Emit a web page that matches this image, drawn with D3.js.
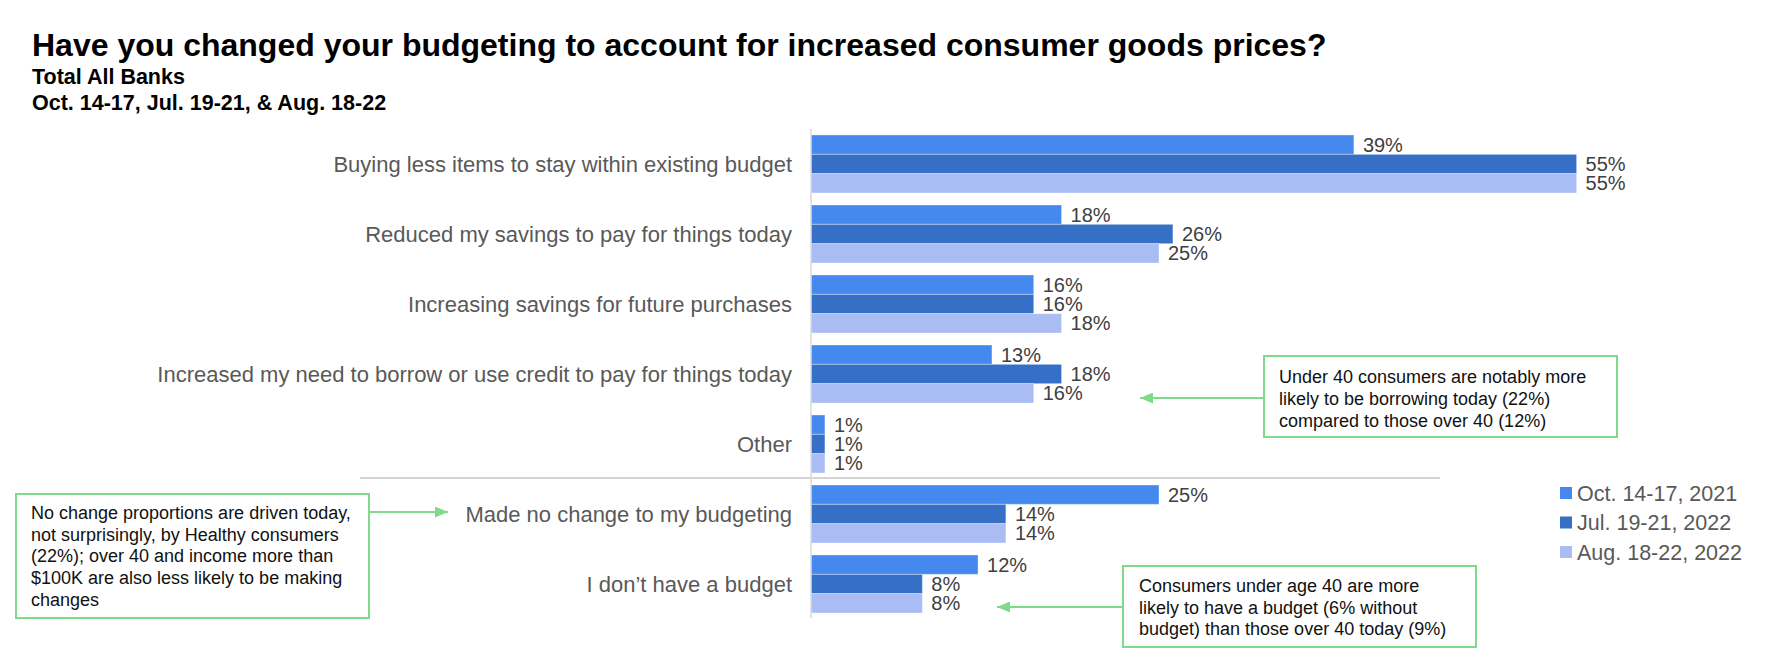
<!DOCTYPE html>
<html>
<head>
<meta charset="utf-8">
<script src="https://cdn.jsdelivr.net/npm/d3@7"></script>
<style>
  html, body { margin: 0; padding: 0; background: #ffffff; }
  svg { display: block; font-family: Arial, "Liberation Sans", sans-serif; }
</style>
</head>
<body>
<svg id="chart" width="1786" height="670"></svg>
<script>
// ---------- data ----------
const categories = [
  "Buying less items to stay within existing budget",
  "Reduced my savings to pay for things today",
  "Increasing savings for future purchases",
  "Increased my need to borrow or use credit to pay for things today",
  "Other",
  "Made no change to my budgeting",
  "I don\u2019t have a budget"
];
const seriesNames = ["Oct. 14-17, 2021", "Jul. 19-21, 2022", "Aug. 18-22, 2022"];
const oct2021 = [39, 18, 16, 13, 1, 25, 12];
const jul2022 = [55, 26, 16, 18, 1, 14, 8];
const aug2022 = [55, 25, 18, 16, 1, 14, 8];
const seriesValues = [oct2021, jul2022, aug2022];
const seriesColors = ["#4589ee", "#3670c6", "#a9bdf4"];

const titleText = "Have you changed your budgeting to account for increased consumer goods prices?";
const subtitleLines = ["Total All Banks", "Oct. 14-17, Jul. 19-21, & Aug. 18-22"];

const notes = [
  { lines: ["Under 40 consumers are notably more", "likely to be borrowing today (22%)", "compared to those over 40 (12%)"] },
  { lines: ["No change proportions are driven today,", "not surprisingly, by Healthy consumers", "(22%); over 40 and income more than", "$100K are also less likely to be making", "changes"] },
  { lines: ["Consumers under age 40 are more", "likely to have a budget (6% without", "budget) than those over 40 today (9%)"] }
];

// ---------- layout ----------
const svg = d3.select("#chart");
const green = "#80da8b";
const x0 = 811;

const x = d3.scaleLinear().domain([0, 60]).range([x0, x0 + 835.2]);
const y = d3.scaleBand().domain(categories).range([129, 619])
  .paddingInner(12 / 70).paddingOuter(6 / 70);
const ySub = d3.scaleBand().domain(seriesNames).range([0, y.bandwidth()]);

// defs: arrow marker
svg.append("defs").append("marker")
  .attr("id", "arrow").attr("markerUnits", "userSpaceOnUse")
  .attr("viewBox", "0 0 13 11").attr("refX", 13).attr("refY", 5.5)
  .attr("markerWidth", 13).attr("markerHeight", 11).attr("orient", "auto")
  .append("path").attr("d", "M0,0L13,5.5L0,11Z").attr("fill", green);

// title
svg.append("text").attr("x", 32).attr("y", 56)
  .attr("font-size", 32).attr("font-weight", "bold").attr("fill", "#000")
  .text(titleText);
svg.selectAll("text.sub").data(subtitleLines).enter().append("text")
  .attr("class", "sub").attr("x", 32).attr("y", (d, i) => 84 + i * 26)
  .attr("font-size", 21.5).attr("font-weight", "bold").attr("fill", "#000")
  .text(d => d);

// separator line between groups
svg.append("line").attr("x1", 360).attr("x2", 1440)
  .attr("y1", 478).attr("y2", 478)
  .attr("stroke", "#d4d4d4").attr("stroke-width", 2);

// bars
const groups = svg.selectAll("g.cat").data(categories).enter().append("g")
  .attr("class", "cat").attr("transform", d => `translate(0,${y(d)})`);

groups.each(function (cat, ci) {
  const g = d3.select(this);
  seriesNames.forEach((s, si) => {
    const v = seriesValues[si][ci];
    g.append("rect")
      .attr("x", x(0)).attr("y", ySub(s))
      .attr("width", x(v) - x(0)).attr("height", ySub.bandwidth())
      .attr("fill", seriesColors[si])
      .attr("stroke", "rgba(255,255,255,0.35)").attr("stroke-width", 1);
    g.append("text")
      .attr("x", x(v) + 9).attr("y", ySub(s) + ySub.bandwidth() / 2)
      .attr("dy", "0.35em").attr("font-size", 20).attr("fill", "#404040")
      .text(v + "%");
  });
});

// category labels
svg.selectAll("text.cat").data(categories).enter().append("text")
  .attr("class", "cat").attr("x", 792).attr("y", d => y(d) + y.bandwidth() / 2)
  .attr("dy", "0.35em").attr("text-anchor", "end")
  .attr("font-size", 22).attr("fill", "#595959")
  .text(d => d);

// y axis line
svg.append("line").attr("x1", x0).attr("x2", x0)
  .attr("y1", 129).attr("y2", 618)
  .attr("stroke", "#d9d9d9").attr("stroke-width", 1.5);

// legend
const legend = svg.selectAll("g.leg").data(seriesNames).enter().append("g")
  .attr("class", "leg").attr("transform", (d, i) => `translate(1560,${493 + i * 29.5})`);
legend.append("rect").attr("x", 0).attr("y", -6).attr("width", 12).attr("height", 12)
  .attr("fill", (d, i) => seriesColors[i]);
legend.append("text").attr("x", 17).attr("y", 0).attr("dy", "0.35em")
  .attr("font-size", 21.5).attr("fill", "#595959").text(d => d);

// annotation boxes
const boxes = [
  { x: 1264, y: 356, w: 353, h: 81, tx: 1279, ty: 383, lh: 22, arrow: [1264, 398, 1140, 398] },
  { x: 16, y: 494, w: 353, h: 124, tx: 31, ty: 519, lh: 21.7, arrow: [369, 512, 448, 512] },
  { x: 1123, y: 566, w: 353, h: 81, tx: 1139, ty: 592, lh: 21.5, arrow: [1123, 607, 997, 607] }
];
boxes.forEach((b, i) => {
  svg.append("line").attr("x1", b.arrow[0]).attr("y1", b.arrow[1])
    .attr("x2", b.arrow[2]).attr("y2", b.arrow[3])
    .attr("stroke", green).attr("stroke-width", 2).attr("marker-end", "url(#arrow)");
  svg.append("rect").attr("x", b.x).attr("y", b.y).attr("width", b.w).attr("height", b.h)
    .attr("fill", "#fff").attr("stroke", green).attr("stroke-width", 2);
  svg.append("g").selectAll("text").data(notes[i].lines).enter().append("text")
    .attr("x", b.tx).attr("y", (d, j) => b.ty + j * b.lh)
    .attr("font-size", 18).attr("fill", "#111").text(d => d);
});
</script>
</body>
</html>
